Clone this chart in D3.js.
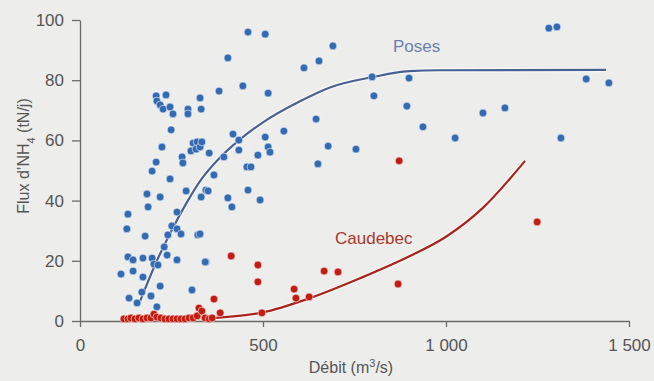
<!DOCTYPE html>
<html>
<head>
<meta charset="utf-8">
<script src="https://cdn.jsdelivr.net/npm/d3@7"></script>
<style>
  html, body { margin: 0; padding: 0; background: #ededeb; }
  svg { display: block; }
  text { font-family: "Liberation Sans", Arial, sans-serif; }
</style>
</head>
<body>
<svg id="chart" width="654" height="381"></svg>
<script>
// Débit (m3/s) and NH4 flux (tN/j) at Poses
const posesDebit = [208,235,328,210,219,227,246,254,295,295,331,249,224,309,320,303,317,328,279,281,
  353,208,197,246,183,219,290,331,344,186,131,265,128,178,251,240,265,276,322,230,
  238,131,145,172,197,202,213,265,344,112,145,172,219,169,194,306,134,156,210,380,
  445,514,333,418,434,506,514,519,434,393,486,456,467,366,350,459,404,415,492,328,
  342,557,459,506,404,691,612,653,798,899,803,893,937,645,678,754,650,1281,1303,1383,
  1445,1101,1161,1025,1314];
const posesFlux = [74.8,75.1,74.1,73.1,71.8,70.4,71.1,68.8,70.4,68.8,70.4,63.5,57.8,59.1,59.5,56.5,57.1,57.8,54.5,52.5,
  55.8,52.8,49.8,47.2,42.2,41.2,43.2,41.2,43.5,37.9,35.5,36.2,30.6,28.2,31.6,28.6,30.6,28.9,28.6,24.6,
  21.9,21.3,20.3,20.9,20.9,18.9,18.6,20.3,19.6,15.6,16.6,14.6,11.6,9.6,8.3,10.3,7.6,6.0,4.7,76.4,
  78.1,75.7,59.5,62.1,60.1,61.1,57.8,56.1,56.8,54.5,55.1,51.2,51.2,48.5,43.2,43.5,40.9,37.9,40.2,28.9,
  19.6,63.1,96.0,95.3,87.4,91.4,84.1,86.4,81.1,80.7,74.8,71.4,64.5,67.1,58.1,57.1,52.2,97.3,97.7,80.4,
  79.1,69.1,70.8,60.8,60.8];

// Débit and NH4 flux at Caudebec
const caudebecDebit = [120,131,139,150,161,172,183,194,202,210,221,232,243,254,265,276,287,298,309,320,
  325,333,342,353,361,366,383,497,413,486,486,585,590,626,667,705,869,872,1249];
const caudebecFlux = [0.7,0.7,1.0,0.7,1.0,0.7,1.0,1.0,2.3,1.3,1.0,0.7,0.7,0.7,0.7,0.7,0.7,1.0,1.0,1.7,
  4.3,3.3,1.0,0.7,1.0,7.3,2.7,2.7,21.6,18.6,13.0,10.6,7.6,8.0,16.6,16.3,12.3,53.2,32.9];

// Fitted trend curves
const posesFitDebit = [164,210,250,290,328,380,434,500,601,683,798,900,983,1437];
const posesFitFlux  = [6.5,20.0,30.0,39.0,46.5,54.0,60.0,66.0,73.0,77.6,81.0,83.0,83.3,83.4];
const caudebecFitDebit = [336,497,628,765,900,1000,1100,1216];
const caudebecFitFlux  = [0.8,2.8,7.6,14.2,21.5,28.0,37.5,53.2];

const xTicks = [0, 500, 1000, 1500];
const xTickLabels = ["0", "500", "1 000", "1 500"];
const yTicks = [0, 20, 40, 60, 80, 100];

const svg = d3.select("#chart");
const x = d3.scaleLinear().domain([0, 1500]).range([80, 629]);
const y = d3.scaleLinear().domain([0, 100]).range([321, 20]);

const axisColor = "#6b6b6b";
const labelColor = "#555";
const blue = "#336bb3";
const red = "#c21d12";

// Axes
const yAxis = svg.append("g").attr("transform", "translate(80,0)")
  .call(d3.axisLeft(y).tickValues(yTicks).tickSize(8).tickPadding(8).tickSizeOuter(0));
const xAxis = svg.append("g").attr("transform", "translate(0,321)")
  .call(d3.axisBottom(x).tickValues(xTicks).tickFormat((d, i) => xTickLabels[i])
    .tickSize(6).tickPadding(12).tickSizeOuter(0));
[xAxis, yAxis].forEach(g => {
  g.selectAll("path, line").attr("stroke", axisColor).attr("stroke-width", 1.3);
  g.selectAll("text").attr("fill", labelColor).style("font-size", "17px");
});

// Trend lines
const line = d3.line().x(d => x(d[0])).y(d => y(d[1])).curve(d3.curveMonotoneX);
const posesFit = posesFitDebit.map((d, i) => [d, posesFitFlux[i]]);
const caudebecFit = caudebecFitDebit.map((d, i) => [d, caudebecFitFlux[i]]);

function drawFit(data, color) {
  svg.append("path").datum(data).attr("d", line)
    .attr("fill", "none").attr("stroke", "#fbfbfa").attr("stroke-width", 4.5).attr("opacity", 0.8);
  svg.append("path").datum(data).attr("d", line)
    .attr("fill", "none").attr("stroke", color).attr("stroke-width", 2.2);
}

// Points
function drawPoints(xs, ys, color) {
  svg.append("g").selectAll("circle").data(xs.map((d, i) => [d, ys[i]])).join("circle")
    .attr("cx", d => x(d[0])).attr("cy", d => y(d[1])).attr("r", 3.9)
    .attr("fill", color).attr("stroke", "rgba(255,255,255,0.55)").attr("stroke-width", 1);
}

drawFit(posesFit, "#4a6090");
drawFit(caudebecFit, "#a8231c");
drawPoints(posesDebit, posesFlux, blue);
drawPoints(caudebecDebit, caudebecFlux, red);

// Series labels
svg.append("text").attr("x", 393).attr("y", 52).attr("fill", "#6b80ad")
  .style("font-size", "17px").text("Poses");
svg.append("text").attr("x", 335).attr("y", 244).attr("fill", "#a53a2c")
  .style("font-size", "17px").text("Caudebec");

// Axis titles
const xt = svg.append("text").attr("x", 351).attr("y", 373).attr("text-anchor", "middle")
  .attr("fill", labelColor).style("font-size", "16px");
xt.append("tspan").text("Débit (m");
xt.append("tspan").attr("baseline-shift", "super").style("font-size", "11px").text("3");
xt.append("tspan").text("/s)");

const yt = svg.append("text").attr("transform", "translate(29,156) rotate(-90)")
  .attr("text-anchor", "middle").attr("fill", labelColor).style("font-size", "16px");
yt.append("tspan").text("Flux d’NH");
yt.append("tspan").attr("baseline-shift", "sub").style("font-size", "11px").text("4");
yt.append("tspan").text(" (tN/j)");
</script>
</body>
</html>
